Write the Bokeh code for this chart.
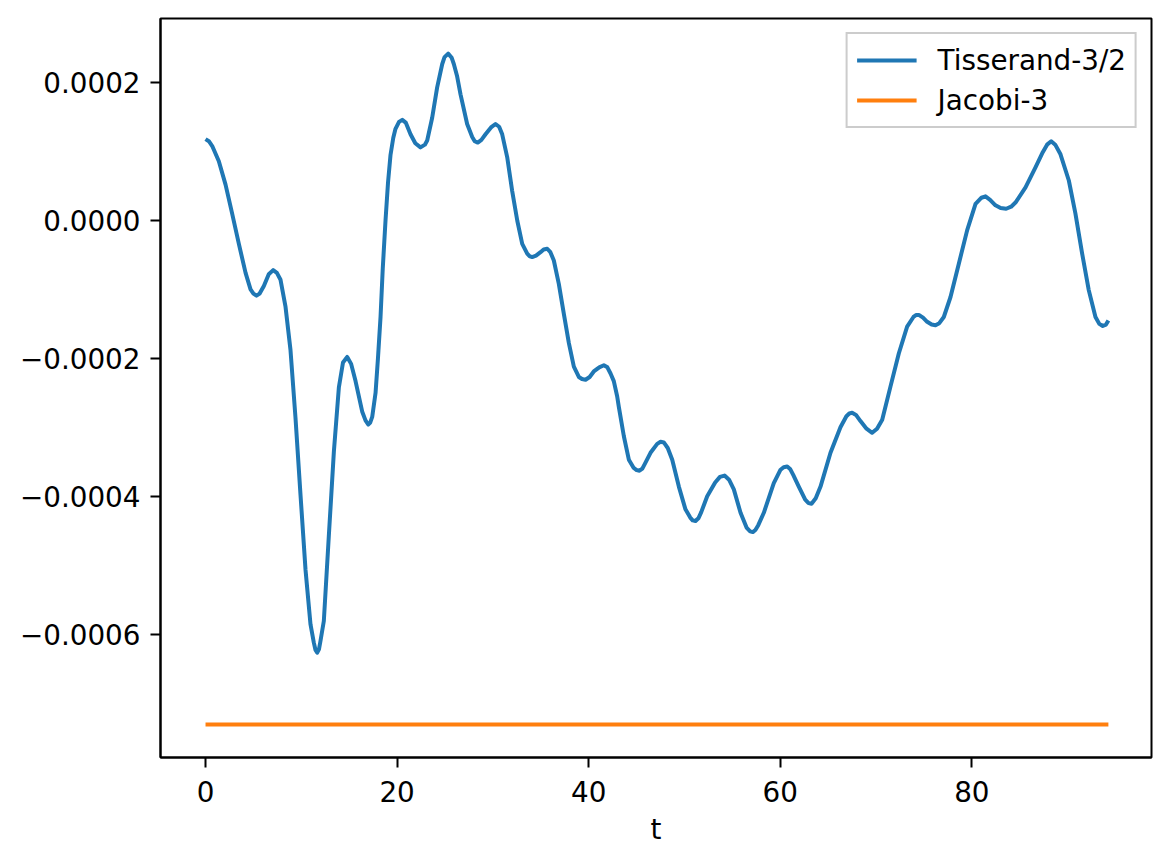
import numpy as np
from bokeh.plotting import figure
from bokeh.models import Range1d, FixedTicker, CustomJSTickFormatter, Legend, LegendItem
from bokeh.embed import file_html
from bokeh.resources import INLINE

# ---- data ----
t_tisserand = [
    0.0, 0.35, 0.7, 1.39, 2.09, 2.78, 3.48, 4.18, 4.70, 5.0,
    5.32, 5.65, 6.09, 6.6, 7.06, 7.45, 7.83, 8.35, 8.87, 9.39,
    9.92, 10.44, 10.96, 11.30, 11.48, 11.66, 11.84, 12.0, 12.35, 12.87,
    13.4, 13.92, 14.35, 14.79, 15.2, 15.66, 16.35, 16.7, 16.98, 17.2,
    17.4, 17.75, 18.0, 18.27, 18.5, 18.79, 19.05, 19.31, 19.6, 19.83,
    20.2, 20.54, 20.9, 21.4, 21.9, 22.44, 22.9, 23.14, 23.66, 24.18,
    24.71, 24.95, 25.33, 25.7, 25.92, 26.25, 26.62, 27.31, 27.84, 28.1,
    28.42, 28.8, 29.23, 29.8, 30.27, 30.65, 30.97, 31.49, 32.01, 32.54,
    33.06, 33.58, 33.85, 34.1, 34.5, 34.97, 35.3, 35.67, 36.0, 36.36,
    36.88, 37.4, 37.93, 38.45, 38.97, 39.3, 39.67, 40.1, 40.53, 41.1,
    41.58, 41.95, 42.28, 42.62, 42.97, 43.14, 43.67, 44.19, 44.7, 45.0,
    45.3, 45.6, 45.9, 46.45, 47.15, 47.5, 47.84, 48.25, 48.72, 49.41,
    50.1, 50.6, 50.85, 51.15, 51.45, 51.75, 52.37, 53.2, 53.7, 54.18,
    54.65, 55.15, 55.85, 56.5, 56.85, 57.13, 57.4, 57.7, 58.28, 59.32,
    60.0, 60.35, 60.72, 61.05, 61.35, 61.93, 62.6, 62.95, 63.26, 63.7,
    64.2, 65.24, 66.28, 66.9, 67.2, 67.5, 67.9, 68.37, 69.0, 69.59,
    70.1, 70.64, 71.5, 72.37, 73.24, 73.9, 74.2, 74.46, 74.9, 75.33,
    75.8, 76.2, 76.6, 77.07, 77.77, 78.63, 79.51, 80.38, 81.0, 81.42,
    81.9, 82.46, 83.0, 83.58, 84.1, 84.55, 85.6, 86.64, 87.4, 87.85,
    88.28, 88.7, 89.25, 90.12, 90.81, 91.51, 92.2, 92.9, 93.3, 93.66,
    94.0, 94.25,
]
# values in units of 1e-4
v_tisserand_e4 = [
    1.18, 1.15, 1.08, 0.86, 0.52, 0.10, -0.34, -0.76, -1.00, -1.06,
    -1.09, -1.06, -0.95, -0.78, -0.72, -0.76, -0.86, -1.25, -1.88, -2.86,
    -3.99, -5.07, -5.86, -6.12, -6.23, -6.27, -6.22, -6.10, -5.81, -4.58,
    -3.35, -2.42, -2.06, -1.98, -2.08, -2.33, -2.77, -2.90, -2.96, -2.93,
    -2.85, -2.50, -2.00, -1.40, -0.70, 0.0, 0.55, 0.95, 1.20, 1.33,
    1.43, 1.46, 1.42, 1.25, 1.12, 1.06, 1.10, 1.16, 1.49, 1.93,
    2.27, 2.37, 2.42, 2.36, 2.27, 2.10, 1.83, 1.40, 1.21, 1.15,
    1.13, 1.17, 1.25, 1.35, 1.40, 1.36, 1.25, 0.92, 0.43, 0.0,
    -0.34, -0.48, -0.52, -0.53, -0.51, -0.46, -0.42, -0.41, -0.46, -0.58,
    -0.92, -1.35, -1.78, -2.12, -2.27, -2.30, -2.31, -2.27, -2.19, -2.13,
    -2.10, -2.13, -2.22, -2.33, -2.55, -2.70, -3.13, -3.47, -3.59, -3.62,
    -3.63, -3.60, -3.52, -3.37, -3.24, -3.21, -3.22, -3.30, -3.47, -3.86,
    -4.19, -4.31, -4.35, -4.36, -4.32, -4.23, -4.00, -3.80, -3.72, -3.70,
    -3.76, -3.90, -4.24, -4.46, -4.51, -4.52, -4.49, -4.42, -4.24, -3.81,
    -3.62, -3.58, -3.57, -3.61, -3.69, -3.86, -4.05, -4.10, -4.11, -4.03,
    -3.86, -3.37, -3.00, -2.84, -2.80, -2.79, -2.82, -2.91, -3.02, -3.08,
    -3.02, -2.89, -2.41, -1.93, -1.54, -1.40, -1.37, -1.37, -1.41, -1.47,
    -1.51, -1.52, -1.49, -1.40, -1.11, -0.63, -0.14, 0.24, 0.33, 0.35,
    0.30, 0.22, 0.18, 0.17, 0.20, 0.26, 0.48, 0.77, 0.99, 1.10,
    1.15, 1.10, 0.96, 0.58, 0.10, -0.48, -1.01, -1.40, -1.50, -1.53,
    -1.51, -1.45,
]
t_jacobi = [0.0, 94.25]
v_jacobi = [-7.31e-4, -7.31e-4]

x_ticks = [0, 20, 40, 60, 80]
y_ticks = [-0.0006, -0.0004, -0.0002, 0.0, 0.0002]

series_labels = ["Tisserand-3/2", "Jacobi-3"]
x_label = "t"

v_tisserand = list(np.array(v_tisserand_e4) * 1e-4)

FONT = "DejaVu Sans"
FS = "27.8px"

p = figure(
    width=1170, height=863,
    output_backend="svg", toolbar_location=None,
    x_range=Range1d(-4.70, 98.75), y_range=Range1d(-7.79e-4, 2.93e-4),
    min_border_left=160, min_border_right=19, min_border_top=18, min_border_bottom=106,
    background_fill_color="white", border_fill_color="white",
)
p.xgrid.visible = False
p.ygrid.visible = False
p.outline_line_color = "black"
p.outline_line_width = 2
p.outline_line_alpha = 1.0

for ax in (p.xaxis[0], p.yaxis[0]):
    ax.axis_line_width = 2
    ax.axis_line_color = "black"
    ax.major_tick_line_width = 2
    ax.major_tick_line_color = "black"
    ax.major_tick_out = 10
    ax.major_tick_in = 0
    ax.minor_tick_out = 0
    ax.minor_tick_in = 0
    ax.major_label_text_font = FONT
    ax.major_label_text_font_size = FS
    ax.major_label_text_color = "black"

p.xaxis.ticker = FixedTicker(ticks=x_ticks)
p.yaxis.ticker = FixedTicker(ticks=y_ticks)
p.xaxis.major_label_standoff = 13
p.yaxis.major_label_standoff = 10
p.yaxis.formatter = CustomJSTickFormatter(
    code="return (tick < -1e-12 ? '\u2212' : '') + Math.abs(tick).toFixed(4);"
)
p.xaxis.axis_label = x_label
p.xaxis.axis_label_text_font = FONT
p.xaxis.axis_label_text_font_size = FS
p.xaxis.axis_label_text_font_style = "normal"
p.xaxis.axis_label_text_color = "black"
p.xaxis.axis_label_standoff = 8

r1 = p.line(t_tisserand, v_tisserand, line_color="#1f77b4", line_width=4, line_join="round")
r2 = p.line(t_jacobi, v_jacobi, line_color="#ff7f0e", line_width=4)

legend = Legend(
    items=[LegendItem(label=series_labels[0], renderers=[r1]),
           LegendItem(label=series_labels[1], renderers=[r2])],
    location="top_right", margin=14, padding=9, spacing=6,
    glyph_width=60, glyph_height=34, label_height=34, label_standoff=21,
    label_text_font=FONT, label_text_font_size=FS, label_text_color="black",
    border_line_color="#cccccc", border_line_width=2, border_line_alpha=1.0,
    background_fill_color="white", background_fill_alpha=0.8,
)
p.add_layout(legend)

open("out.html", "w").write(file_html(p, INLINE))
